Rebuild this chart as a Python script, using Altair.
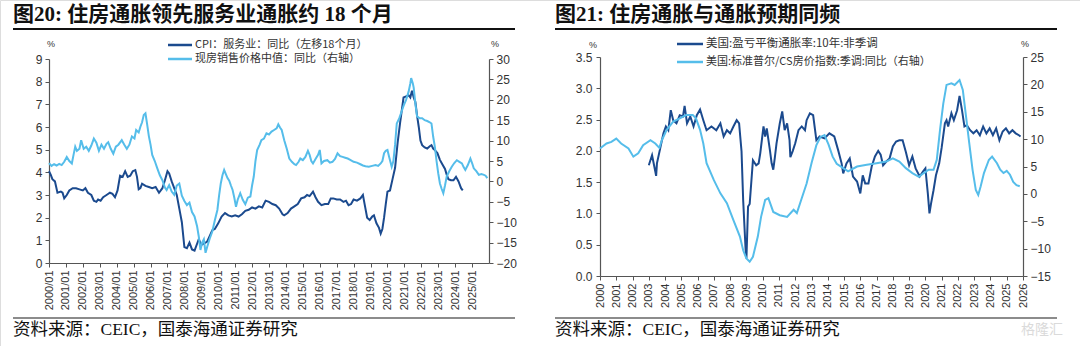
import altair as alt
import pandas as pd

# ---------------- data (decimal years) ----------------
# Fig 20: CPI services yoy (shifted left 18 months), left axis
cpi_t = [2000.0, 2000.1, 2000.2, 2000.35, 2000.5, 2000.7, 2000.8, 2000.9, 2001.05, 2001.2, 2001.4, 2001.6, 2001.8,
         2002.0, 2002.15, 2002.3, 2002.5, 2002.65, 2002.8, 2002.9, 2003.05, 2003.2, 2003.4, 2003.6, 2003.75, 2003.9,
         2004.05, 2004.2, 2004.35, 2004.5, 2004.65, 2004.8, 2004.95, 2005.1, 2005.2, 2005.3, 2005.4, 2005.5, 2005.7,
         2005.9, 2006.1, 2006.3, 2006.5, 2006.7, 2006.85, 2007.0, 2007.1, 2007.25, 2007.4, 2007.55, 2007.7, 2007.85,
         2008.0, 2008.15, 2008.3, 2008.45, 2008.6, 2008.75, 2008.85, 2009.0, 2009.15, 2009.35, 2009.5, 2009.65, 2009.8,
         2010.0, 2010.2, 2010.4, 2010.6, 2010.8, 2011.0, 2011.2, 2011.4, 2011.6, 2011.8, 2012.0, 2012.2, 2012.4, 2012.6,
         2012.8, 2013.0, 2013.2, 2013.4, 2013.6, 2013.8, 2013.9, 2014.1, 2014.3, 2014.5, 2014.7, 2014.9, 2015.1, 2015.25,
         2015.4, 2015.6, 2015.75, 2015.9, 2016.1, 2016.3, 2016.5, 2016.65, 2016.8, 2017.0, 2017.2, 2017.4, 2017.55,
         2017.7, 2017.85, 2018.0, 2018.2, 2018.4, 2018.55, 2018.65, 2018.8, 2018.95, 2019.1, 2019.2, 2019.35, 2019.5,
         2019.6, 2019.7, 2019.8, 2019.9, 2020.0, 2020.15, 2020.3, 2020.45, 2020.6, 2020.75, 2020.95, 2021.1, 2021.25,
         2021.35, 2021.45, 2021.55, 2021.65, 2021.75, 2021.85, 2021.95, 2022.05, 2022.2, 2022.35, 2022.5, 2022.6,
         2022.7, 2022.8, 2022.95, 2023.1, 2023.25, 2023.4, 2023.5, 2023.6, 2023.75, 2023.9, 2024.05, 2024.2, 2024.35,
         2024.45]
cpi_v = [4.05, 3.9, 3.7, 3.6, 3.1, 3.15, 3.1, 2.85, 3.0, 3.2, 3.3, 3.3, 3.25,
         3.2, 3.3, 3.1, 3.0, 2.75, 2.7, 2.8, 2.75, 2.9, 3.0, 3.1, 3.05, 2.9,
         3.2, 3.85, 3.8, 4.05, 3.8, 3.85, 4.05, 4.1, 3.8, 3.25, 3.3, 3.5, 3.4,
         3.35, 3.3, 3.35, 3.1, 3.3, 3.65, 4.05, 3.95, 3.6, 3.3, 3.0, 2.4, 1.8,
         0.7, 0.65, 0.9, 0.6, 0.55, 0.85, 1.05, 0.8, 0.85, 0.95, 1.2, 1.45, 1.5,
         1.75, 2.05, 2.2, 2.1, 2.05, 2.1, 2.05, 2.15, 2.3, 2.35, 2.45, 2.4, 2.5, 2.45,
         2.75, 2.7, 2.6, 2.55, 2.4, 2.15, 2.1, 2.2, 2.4, 2.5, 2.6, 2.85, 2.9, 3.0,
         2.95, 3.15, 2.9, 2.7, 2.55, 2.6, 2.6, 2.85, 2.85, 2.8, 2.8, 2.7, 2.75,
         2.55, 2.6, 2.8, 2.75, 2.85, 3.0, 2.6, 2.0, 1.9, 2.05, 2.1, 1.75, 1.55,
         1.3, 1.5, 2.0, 2.6, 3.15, 3.2, 3.7, 4.2, 5.3, 6.2, 7.3, 7.35, 7.4,
         7.3, 7.6, 7.3, 7.1, 6.5, 6.0, 5.4, 5.2, 5.1, 5.05, 5.15, 5.2,
         5.05, 4.98, 4.85, 4.55, 4.35, 4.15, 3.9, 3.7, 3.65, 3.65, 3.8, 3.6, 3.3,
         3.2]

# Fig 20: median existing home sale price yoy, right axis
hp_t = [2000.0, 2000.15, 2000.3, 2000.45, 2000.6, 2000.75, 2000.9, 2001.05, 2001.2, 2001.35, 2001.45, 2001.55, 2001.65,
        2001.8, 2001.9, 2002.05, 2002.2, 2002.35, 2002.5, 2002.65, 2002.8, 2002.95, 2003.1, 2003.25, 2003.4, 2003.5,
        2003.65, 2003.8, 2003.95, 2004.1, 2004.3, 2004.45, 2004.6, 2004.75, 2004.9, 2005.05, 2005.15, 2005.3, 2005.4,
        2005.5, 2005.6, 2005.7, 2005.8, 2005.9, 2006.0, 2006.1, 2006.25, 2006.4, 2006.55, 2006.7, 2006.85, 2006.95,
        2007.1, 2007.25, 2007.4, 2007.55, 2007.7, 2007.85, 2008.0, 2008.15, 2008.3, 2008.45, 2008.6, 2008.75, 2008.85,
        2008.95, 2009.05, 2009.15, 2009.25, 2009.35, 2009.5, 2009.65, 2009.8, 2009.95, 2010.05, 2010.15, 2010.25,
        2010.35, 2010.45, 2010.55, 2010.65, 2010.75, 2010.85, 2010.95, 2011.05, 2011.15, 2011.3, 2011.45, 2011.6,
        2011.75, 2011.9, 2012.0, 2012.1, 2012.2, 2012.3, 2012.45, 2012.55, 2012.7, 2012.85, 2013.0, 2013.15, 2013.3,
        2013.45, 2013.55, 2013.65, 2013.75, 2013.9, 2014.05, 2014.2, 2014.35, 2014.5, 2014.6, 2014.75, 2014.85, 2015.0,
        2015.15, 2015.3, 2015.4, 2015.5, 2015.6, 2015.75, 2015.9, 2016.0, 2016.1, 2016.25, 2016.45, 2016.6, 2016.75,
        2016.9, 2017.05, 2017.2, 2017.35, 2017.5, 2017.65, 2017.8, 2018.0, 2018.2, 2018.4, 2018.55, 2018.7, 2018.9,
        2019.1, 2019.3, 2019.45, 2019.6, 2019.7, 2019.8, 2019.9, 2020.0, 2020.1, 2020.25, 2020.35, 2020.45, 2020.55,
        2020.7, 2020.8, 2020.95, 2021.1, 2021.25, 2021.35, 2021.4, 2021.5, 2021.55, 2021.65, 2021.75, 2021.9, 2022.05,
        2022.2, 2022.35, 2022.5, 2022.6, 2022.7, 2022.8, 2022.9, 2023.0, 2023.1, 2023.2, 2023.3, 2023.4, 2023.5,
        2023.65, 2023.8, 2023.95, 2024.1, 2024.25, 2024.4, 2024.5, 2024.6, 2024.75, 2024.9, 2025.0, 2025.1, 2025.25,
        2025.4, 2025.55, 2025.7, 2025.8, 2025.9]
hp_v = [4.5, 3.8, 4.2, 3.9, 4.3, 4.0, 4.8, 6.0, 5.0, 4.4, 6.5, 8.5, 7.5,
        8.0, 10.1, 8.0, 8.5, 7.5, 8.8, 10.5, 9.5, 7.5, 9.0, 8.0, 9.2, 9.6,
        8.0, 6.8, 8.5, 9.0, 10.1, 9.0, 8.0, 9.0, 11.0, 10.5, 12.6, 12.0, 13.4,
        14.5, 16.3, 16.7, 14.0, 11.1, 9.0, 6.5, 5.0, 3.2, 1.5, 0.3, -1.5, -2.1,
        -0.9, -2.5, -3.3, -1.0, -0.5, -3.5, -4.8, -5.8, -5.2, -7.5, -8.6, -11.0, -13.5,
        -16.8, -15.0, -14.2, -17.5, -16.0, -14.0, -12.3, -9.5, -7.0, -3.5, -0.5, 1.5,
        2.8, 1.8, 0.8, 0.2, -1.0, -2.1, -4.0, -6.2, -4.5, -2.9, -4.5, -5.6,
        -4.0, -3.7, -1.0, 1.2, 5.0, 7.7, 9.0, 10.1, 10.5, 11.8, 11.5, 12.2, 12.6,
        13.0, 14.0, 13.2, 12.6, 10.1, 8.0, 5.6, 4.8, 4.2, 4.0, 4.8, 5.6, 5.2,
        6.0, 7.5, 6.5, 5.0, 4.4, 5.5, 6.5, 7.7, 4.4, 5.0, 5.2, 4.6, 4.8,
        5.5, 6.9, 6.2, 6.0, 5.8, 5.6, 5.3, 4.8, 4.6, 4.2, 3.9, 3.7, 3.6,
        3.8, 4.0, 3.8, 4.4, 5.0, 6.9, 7.5, 7.7, 6.0, 3.6, 5.0, 9.0, 14.2,
        15.5, 16.7, 18.5, 20.0, 22.0, 24.0, 25.3, 24.0, 23.0, 19.0, 15.9, 15.5, 15.5,
        15.0, 14.8, 14.5, 14.2, 11.0, 8.5, 5.0, 2.0, -0.5, -1.8, -2.9, -1.0, 1.2,
        2.5, 3.6, 4.5, 5.2, 4.8, 4.4, 3.5, 2.8, 4.0, 5.6, 4.5, 3.2, 2.5,
        1.6, 1.8, 1.6, 1.4, 0.8]

# Fig 21: US 10y breakeven inflation, left axis
be_t = [2003.0, 2003.2, 2003.4, 2003.45, 2003.5, 2003.7, 2003.9, 2004.05, 2004.2, 2004.35, 2004.5, 2004.7, 2004.9,
        2005.1, 2005.2, 2005.35, 2005.55, 2005.75, 2005.95, 2006.15, 2006.35, 2006.55, 2006.85, 2007.15, 2007.4,
        2007.6, 2007.8, 2008.0, 2008.2, 2008.4, 2008.55, 2008.7, 2008.8, 2008.95, 2009.0, 2009.1, 2009.2, 2009.4,
        2009.6, 2009.75, 2009.85, 2010.05, 2010.15, 2010.25, 2010.45, 2010.55, 2010.65, 2010.75, 2010.85, 2011.05,
        2011.2, 2011.35, 2011.5, 2011.65, 2011.7, 2011.85, 2012.0, 2012.2, 2012.4, 2012.6, 2012.7, 2012.9, 2013.1,
        2013.3, 2013.5, 2013.8, 2014.1, 2014.4, 2014.65, 2014.85, 2014.95, 2015.15, 2015.35, 2015.55, 2015.8, 2016.0,
        2016.15, 2016.3, 2016.5, 2016.7, 2016.9, 2017.1, 2017.25, 2017.4, 2017.6, 2017.8, 2018.0, 2018.2, 2018.4,
        2018.6, 2018.8, 2019.0, 2019.2, 2019.4, 2019.65, 2019.85, 2020.0, 2020.15, 2020.25, 2020.35, 2020.5, 2020.65,
        2020.85, 2021.0, 2021.2, 2021.3, 2021.4, 2021.6, 2021.75, 2021.95, 2022.1, 2022.25, 2022.4, 2022.55, 2022.75,
        2022.95, 2023.15, 2023.35, 2023.55, 2023.75, 2023.95, 2024.15, 2024.35, 2024.55, 2024.75, 2024.95, 2025.15,
        2025.35, 2025.55, 2025.75, 2025.85]
be_v = [1.77, 1.93, 1.67, 1.6, 1.8, 2.04, 2.28, 2.39, 2.33, 2.65, 2.49, 2.44, 2.57,
        2.55, 2.72, 2.44, 2.55, 2.39, 2.57, 2.66, 2.49, 2.33, 2.39, 2.33, 2.44,
        2.23, 2.33, 2.28, 2.39, 2.49, 2.44, 1.99, 1.21, 0.42, 0.28, 1.11, 1.15, 1.85,
        1.77, 1.8, 1.96, 2.39, 2.23, 2.36, 2.0, 1.8, 1.7, 1.9, 2.12, 2.44,
        2.63, 2.33, 2.44, 2.17, 1.9, 2.0, 2.12, 2.33, 2.39, 2.33, 2.49, 2.6, 2.57,
        2.17, 2.23, 2.2, 2.28, 2.23, 2.0, 1.8, 1.64, 1.8, 1.88, 1.59, 1.51, 1.32,
        1.61, 1.48, 1.48, 1.75, 1.91, 2.0, 1.94, 1.77, 1.83, 1.88, 2.07, 2.15, 2.17,
        2.17, 1.98, 1.77, 1.91, 1.72, 1.59, 1.67, 1.72, 1.32, 1.0, 1.16, 1.37, 1.61,
        1.8, 2.05, 2.44, 2.49, 2.39, 2.6, 2.49, 2.65, 2.88, 2.65, 2.39, 2.41, 2.33,
        2.28, 2.33, 2.25, 2.39, 2.28, 2.36, 2.25, 2.36, 2.17, 2.31, 2.36, 2.28,
        2.33, 2.28, 2.25, 2.23]

# Fig 21: S&P/CS home price index yoy (SA), right axis
cs_t = [2000.0, 2000.4, 2000.7, 2001.0, 2001.3, 2001.75, 2002.05, 2002.35, 2002.65, 2003.1, 2003.4, 2003.65, 2003.8,
        2004.1, 2004.5, 2004.9, 2005.3, 2005.7, 2005.9, 2006.15, 2006.35, 2006.55, 2007.0, 2007.4, 2007.8, 2008.2,
        2008.6, 2008.8, 2009.0, 2009.2, 2009.4, 2009.7, 2009.9, 2010.15, 2010.35, 2010.65, 2011.05, 2011.5, 2011.9,
        2012.1, 2012.4, 2012.7, 2013.0, 2013.3, 2013.55, 2013.8, 2014.05, 2014.3, 2014.55, 2014.95, 2015.25, 2015.8,
        2016.4, 2017.0, 2017.6, 2018.0, 2018.4, 2018.8, 2019.2, 2019.6, 2019.9, 2020.2, 2020.5, 2020.7, 2020.9,
        2021.1, 2021.3, 2021.6, 2021.8, 2022.1, 2022.3, 2022.5, 2022.7, 2022.9, 2023.1, 2023.25, 2023.4, 2023.6,
        2023.9, 2024.1, 2024.4, 2024.6, 2024.8, 2025.0, 2025.2, 2025.4, 2025.6, 2025.8]
cs_v = [8.3, 9.2, 9.5, 10.1, 9.2, 8.3, 6.8, 7.4, 8.9, 9.8, 9.2, 8.4, 9.8,
        11.7, 13.2, 13.8, 14.4, 14.4, 13.8, 11.7, 9.2, 5.6, 2.5, 0.1, -1.7, -4.8,
        -7.8, -10.3, -11.8, -12.4, -11.5, -7.8, -4.2, -1.1, -0.8, -3.3, -3.9, -4.2, -2.9,
        -3.5, -0.8, 1.9, 5.6, 8.9, 10.4, 10.75, 9.0, 6.8, 5.5, 4.7, 4.1, 5.0,
        5.3, 5.6, 5.9, 6.5, 5.9, 4.7, 3.8, 3.1, 3.8, 4.4, 4.4, 6.2, 11.7,
        16.5, 19.9, 20.2, 19.9, 20.8, 19.0, 14.1, 9.2, 4.4, 0.7, -0.2, 1.4, 3.8,
        6.2, 6.8, 5.6, 4.4, 3.8, 4.2, 3.5, 2.2, 1.6, 1.4]

# ---------------- styling ----------------
DARK = "#1B4A8E"
LIGHT = "#55BDEA"
AXC = "#555555"
LABC = "#333333"
SANS = "Liberation Sans"
CJK = "Noto Sans CJK SC"
SERIF_CJK = "Liberation Serif, Noto Sans CJK SC"
W, H = 1080, 346

# panel geometry (pixel positions)
LX0, LX1, LYB, LYT = 49, 489, 263, 59
RX0, RX1, RYB, RYT = 600, 1023, 276, 57

ax_common = dict(domainColor=AXC, tickColor=AXC, tickSize=4, labelColor=LABC,
                 labelFont=SANS, grid=False, title=None, domainWidth=1.2, tickWidth=1)

dummy = pd.DataFrame({"d": [0]})


def line(df, color, x_scale, y_scale, x_axis, y_axis, y_field="v"):
    return alt.Chart(df).mark_line(color=color, strokeWidth=2).encode(
        x=alt.X("t:Q", scale=x_scale, axis=x_axis),
        y=alt.Y(f"{y_field}:Q", scale=y_scale, axis=y_axis),
    )


df_cpi = pd.DataFrame({"t": cpi_t, "v": cpi_v})
df_hp = pd.DataFrame({"t": hp_t, "v": hp_v})
df_be = pd.DataFrame({"t": be_t, "v": be_v})
df_cs = pd.DataFrame({"t": cs_t, "v": cs_v})

xs_left = alt.Scale(domain=[2000, 2026], range=[LX0, LX1], nice=False, zero=False)
xs_right = alt.Scale(domain=[2000, 2026], range=[RX0, RX1], nice=False, zero=False)

years_left = list(range(2000, 2026))
years_right = list(range(2000, 2027))

l1 = line(
    df_cpi, DARK, xs_left,
    alt.Scale(domain=[0, 9], range=[LYB, LYT], nice=False, zero=False),
    alt.Axis(orient="bottom", offset=LYB - H, values=years_left, labelExpr="datum.value + '/01'",
             labelAngle=-90, labelFontSize=11, labelPadding=3, **ax_common),
    alt.Axis(orient="left", offset=-LX0, values=list(range(0, 10)), labelFontSize=12, labelPadding=3, **ax_common),
)
l2 = line(
    df_hp, LIGHT, xs_left,
    alt.Scale(domain=[-20, 30], range=[LYB, LYT], nice=False, zero=False),
    None,
    alt.Axis(orient="right", offset=LX1 - W, values=list(range(-20, 31, 5)), labelFontSize=12, labelPadding=3, **ax_common),
)
r1 = line(
    df_be, DARK, xs_right,
    alt.Scale(domain=[0, 3.5], range=[RYB, RYT], nice=False, zero=False),
    alt.Axis(orient="bottom", offset=RYB - H, values=years_right, format="d",
             labelAngle=-90, labelFontSize=11, labelPadding=3, **ax_common),
    alt.Axis(orient="left", offset=-RX0, values=[0, 0.5, 1, 1.5, 2, 2.5, 3, 3.5], format=".1f",
             labelFontSize=12, labelPadding=4, **ax_common),
)
r2 = line(
    df_cs, LIGHT, xs_right,
    alt.Scale(domain=[-15, 25], range=[RYB, RYT], nice=False, zero=False),
    None,
    alt.Axis(orient="right", offset=RX1 - W, values=list(range(-15, 26, 5)), labelFontSize=12, labelPadding=3, **ax_common),
)


def txt(x, y, s, size=11, font=CJK, weight="normal", color=LABC, align="left"):
    return alt.Chart(dummy).mark_text(align=align, baseline="middle", font=font, fontSize=size,
                                      fontWeight=weight, color=color).encode(
        x=alt.value(x), y=alt.value(y), text=alt.value(s))


def hrule(x1, x2, y, color, width):
    return alt.Chart(dummy).mark_rule(color=color, strokeWidth=width).encode(
        x=alt.value(x1), x2=alt.value(x2), y=alt.value(y))


deco = [
    # titles
    txt(13, 15, "图20:  住房通胀领先服务业通胀约 18 个月", size=21, font=SERIF_CJK, weight="bold", color="#111111"),
    txt(555, 15, "图21:  住房通胀与通胀预期同频", size=21, font=SERIF_CJK, weight="bold", color="#111111"),
    hrule(13, 515, 29, "#111111", 2),
    hrule(555, 1057, 29, "#111111", 2),
    hrule(13, 515, 318, "#666666", 1.5),
    hrule(555, 1057, 318, "#666666", 1.5),
    txt(13, 330, "资料来源：CEIC，国泰海通证券研究", size=17.5, font=SERIF_CJK, color="#111111"),
    txt(555, 330, "资料来源：CEIC，国泰海通证券研究", size=17.5, font=SERIF_CJK, color="#111111"),
    txt(1042, 330, "格隆汇", size=14, font=CJK, color="#DADADA", align="center"),
    # units
    txt(51, 44, "%", size=9, font=SANS, align="center"),
    txt(495, 44, "%", size=9, font=SANS, align="center"),
    txt(593, 45, "%", size=9, font=SANS, align="center"),
    txt(1025, 44, "%", size=9, font=SANS, align="center"),
    # legends
    hrule(168, 192, 45, DARK, 2.5),
    txt(195, 45, "CPI：服务业：同比（左移18个月）"),
    hrule(168, 192, 59, LIGHT, 2.5),
    txt(195, 59, "现房销售价格中值：同比（右轴）"),
    hrule(677, 703, 44, DARK, 2.5),
    txt(706, 44, "美国:盈亏平衡通胀率:10年:非季调", size=11.5),
    hrule(677, 703, 62, LIGHT, 2.5),
    txt(706, 62, "美国:标准普尔/CS房价指数:季调:同比（右轴）"),
]

chart = alt.layer(l1, l2, r1, r2, *deco).resolve_scale(
    x="independent", y="independent"
).properties(
    width=W, height=H, padding=0,
    autosize=alt.AutoSizeParams(type="none"),
).configure_view(stroke=None).configure(background="white")

chart.save("out.html", embed_options={"renderer": "svg", "actions": False})
